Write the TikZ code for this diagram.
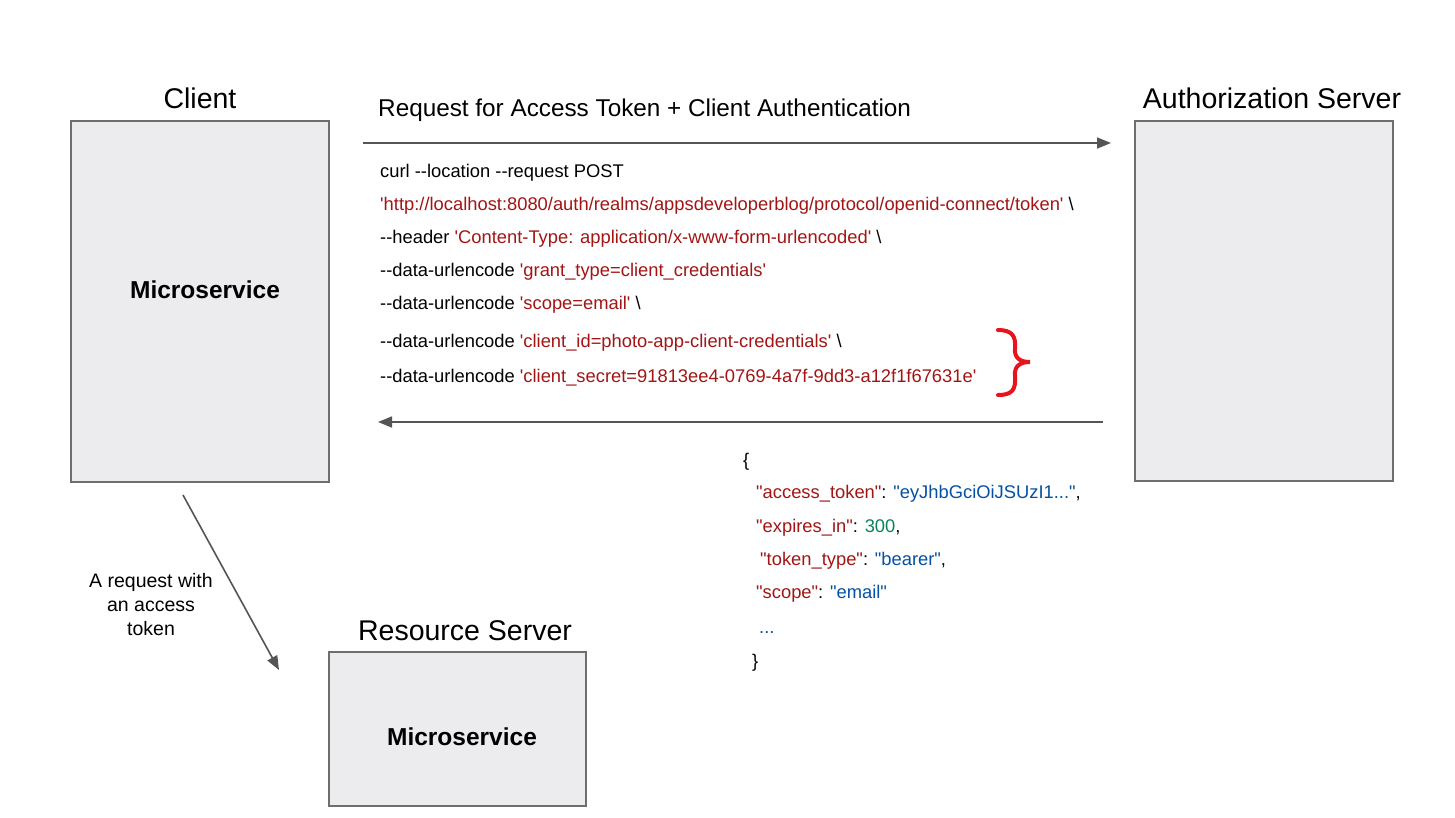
\documentclass[tikz,border=0pt]{standalone}
\usepackage{fontspec}
\setmainfont{Liberation Sans}[Ligatures=TeXOff]
\usetikzlibrary{arrows.meta}
\definecolor{boxfill}{HTML}{ECEBEE}
\definecolor{boxline}{HTML}{6E6E6E}
\definecolor{arr}{HTML}{555555}
\definecolor{codered}{HTML}{A31515}
\definecolor{codeblue}{HTML}{0451A5}
\definecolor{codegreen}{HTML}{098658}
\definecolor{bracered}{HTML}{E8141B}
\tikzset{
  x=1pt, y=-1pt,
  boxnode/.style={draw=boxline, fill=boxfill, line width=1.2pt, inner sep=0pt},
  titletext/.style={font=\fontsize{28.5}{32}\selectfont, anchor=base, inner sep=0pt},
  boldtext/.style={font=\fontsize{24.5}{28}\bfseries\selectfont, anchor=base, inner sep=0pt},
  codetext/.style={font=\fontsize{18.35}{22}\selectfont, anchor=base west, inner sep=0pt},
  flowarrow/.style={draw=arr, line width=1.6pt, -{Triangle[length=14pt,width=11pt]}},
}
\newcommand{\rd}[1]{\textcolor{codered}{#1}}
\newcommand{\bl}[1]{\textcolor{codeblue}{#1}}
\newcommand{\gr}[1]{\textcolor{codegreen}{#1}}
\begin{document}
\begin{tikzpicture}
\useasboundingbox[fill=white] (0,0) rectangle (1455,817);
% boxes
\node[boxnode, minimum width=258pt, minimum height=361pt] (client) at (200,301.5) {};
\node[boxnode, minimum width=258pt, minimum height=360pt] (auth) at (1264,301) {};
\node[boxnode, minimum width=257pt, minimum height=154pt] (res) at (457.5,729) {};
% titles
\node[titletext] (clientlbl) at (200,108) {Client};
\node[titletext] (authlbl) at (1272,108) {Authorization Server};
\node[titletext] (reslbl) at (465,640) {Resource Server};
\node[boldtext] (cms) at (205,298) {Microservice};
\node[boldtext] (rms) at (462,745) {Microservice};
% top arrow
\node[font=\fontsize{24.3}{28}\selectfont, anchor=base west, inner sep=0pt] (reqlbl) at (378,116) {Request for Access Token {}+ Client Authentication};
\coordinate (reqS) at (363,143);
\coordinate (reqE) at (1111,143);
\draw[flowarrow] (reqS) -- (reqE);
% curl text
\node[codetext] (c1) at (380,177) {curl --location --request POST};
\node[codetext] (c2) at (380,210) {\rd{'http://localhost:8080/auth/realms/appsdeveloperblog/protocol/openid-connect/token'} \textbackslash};
\node[codetext] (c3) at (380,243) {--header \rd{'Content-Type: application/x-www-form-urlencoded'} \textbackslash};
\node[codetext] (c4) at (380,276) {--data-urlencode \rd{'grant\_type=client\_credentials'}};
\node[codetext] (c5) at (380,309) {--data-urlencode \rd{'scope=email'} \textbackslash};
\node[codetext] (c6) at (380,347) {--data-urlencode \rd{'client\_id=photo-app-client-credentials'} \textbackslash};
\node[codetext] (c7) at (380,382) {--data-urlencode \rd{'client\_secret=91813ee4-0769-4a7f-9dd3-a12f1f67631e'}};
% brace
\draw[bracered, line width=4pt, line cap=round]
  (998,330) .. controls (1012,330) and (1016,336) .. (1015,348)
  .. controls (1014,358) and (1020,362) .. (1030,362)
  .. controls (1020,362) and (1014,366) .. (1015,376)
  .. controls (1016,390) and (1012,395) .. (998,395);
% bottom arrow
\coordinate (respS) at (1103,422);
\coordinate (respE) at (378,422);
\draw[flowarrow] (respS) -- (respE);
% json
\node[codetext] (j0) at (743,466) {\{};
\node[codetext] (j1) at (756,498) {\rd{"access\_token"}: \bl{"eyJhbGciOiJSUzI1..."},};
\node[codetext] (j2) at (756,532) {\rd{"expires\_in"}: \gr{300},};
\node[codetext] (j3) at (760,565) {\rd{"token\_type"}: \bl{"bearer"},};
\node[codetext] (j4) at (756,598) {\rd{"scope"}: \bl{"email"}};
\node[codetext] (j5) at (759,633) {\bl{...}};
\node[codetext] (j6) at (752,667) {\}};
% diagonal arrow
\coordinate (diagS) at (183,495);
\coordinate (diagE) at (279,670);
\draw[flowarrow] (diagS) -- (diagE);
\node[font=\fontsize{19.5}{24}\selectfont, align=center, anchor=north, inner sep=0pt] (diaglbl) at (151,573) {A request with\\an access\\token};
\end{tikzpicture}
\end{document}
